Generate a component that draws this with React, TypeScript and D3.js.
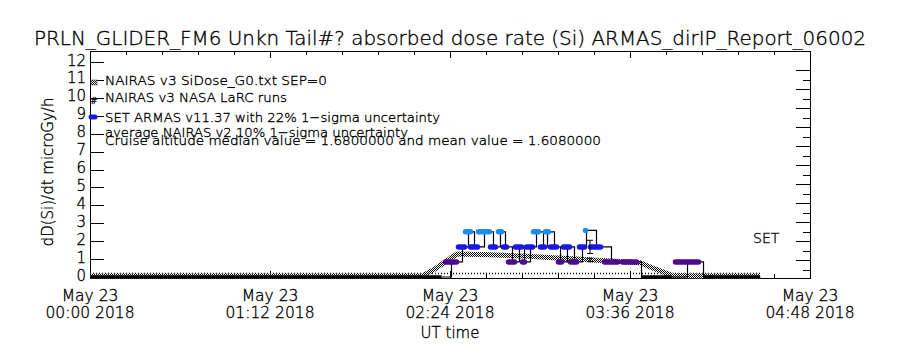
import React, { useEffect, useRef } from "react";
import * as d3 from "d3";

// times are minutes after 2018-05-23 00:00 UT
const xTickMinutes = [0, 72, 144, 216, 288];
const xMinorStep = 14.4;
const yTicks = [0, 1, 2, 3, 4, 5, 6, 7, 8, 9, 10, 11, 12];

// NAIRAS v3 SiDose_G0 model curve
const nairasTime = [0, 60, 120, 133, 138, 142, 146.8, 160, 175, 185, 195, 204, 212, 220, 226, 233, 250, 268];
const nairasDose = [0.04, 0.04, 0.04, 0.06, 0.45, 0.84, 1.28, 1.24, 1.16, 1.08, 1.0, 0.92, 0.86, 0.8, 0.45, 0.08, 0.04, 0.04];

// NAIRAS v3 NASA LaRC runs (near zero)
const larcTime = [0, 268];
const larcDose = [0.19, 0.19];

// SET ARMAS samples: start / end minute and dose rate
const armasStart = [141.2, 146.4, 149.2, 151.2, 154.4, 159.2, 162.4, 164.4, 166.4, 169.2, 172, 173.6, 176.4, 179.2, 181.2, 183.2, 186.4, 188.4, 191.2, 194.8, 197.2, 199.2, 204.8, 212, 233.2];
const armasEnd = [147.6, 150.8, 153.2, 156, 160.8, 163.2, 165.6, 167.6, 170.8, 173.6, 174.8, 178, 180.4, 182.8, 184.4, 187.6, 189.6, 192.8, 195.6, 198.8, 199.2, 205.2, 212, 219.6, 244.4];
const armasDose = [0.84, 1.68, 2.52, 1.68, 2.52, 1.68, 2.52, 1.68, 0.84, 1.68, 0.84, 1.68, 2.52, 1.68, 2.52, 1.68, 0.84, 1.68, 0.84, 1.68, 2.6, 1.68, 0.84, 0.84, 0.84];
const armasZeroStart = [0, 220.4, 245.2];
const armasZeroEnd = [140.6, 232.6, 268];

// error bars (minute, value, relative uncertainty)
const errTime = [200, 200];
const errValue = [1.68, 0.95];
const errRel = [0.22, 0.1];

const legendLabels = [
  "NAIRAS v3 SiDose_G0.txt SEP=0",
  "NAIRAS v3 NASA LaRC runs",
  "SET ARMAS v11.37 with 22% 1\u2212sigma uncertainty",
  "average NAIRAS v2 10% 1\u2212sigma uncertainty",
  "Cruise altitude median value = 1.6800000 and mean value = 1.6080000",
];

const titleText = "PRLN_GLIDER_FM6 Unkn Tail#? absorbed dose rate (Si) ARMAS_dirIP_Report_06002";

const startMs = Date.UTC(2018, 4, 23, 0, 0);
const toDate = (m: number) => new Date(startMs + m * 60000);

const FONT = "'DejaVu Sans ExtraLight', 'DejaVu Sans', 'Liberation Sans', sans-serif";
const WEIGHT = 200;

function doseColor(v: number) {
  if (v <= 1) return "#4e0a8c";
  if (v <= 2) return "#1a16e6";
  return "#1e8cf5";
}

export default function App() {
  const ref = useRef<SVGSVGElement>(null);

  useEffect(() => {
    const svg = d3.select(ref.current);
    svg.selectAll("*").remove();

    const left = 90, right = 810, top = 51, bottom = 278;

    const x = d3.scaleUtc().domain([toDate(0), toDate(288)]).range([left, right]);
    const y = d3.scaleLinear().domain([0, 12]).range([277, 62]);

    const defs = svg.append("defs");
    const pat = defs.append("pattern")
      .attr("id", "dither")
      .attr("width", 2).attr("height", 2)
      .attr("patternUnits", "userSpaceOnUse");
    pat.append("rect").attr("width", 2).attr("height", 2).attr("fill", "#ffffff");
    pat.append("rect").attr("width", 1).attr("height", 1).attr("fill", "#000");
    pat.append("rect").attr("x", 1).attr("y", 1).attr("width", 1).attr("height", 1).attr("fill", "#000");

    const txt = (sel: d3.Selection<any, any, any, any>, size: number) =>
      sel.attr("font-family", FONT).attr("font-weight", WEIGHT).attr("font-size", size)
        .attr("fill", "#000").attr("stroke", "#000").attr("stroke-width", 0.35);

    // title
    txt(svg.append("text"), 20)
      .attr("x", 450).attr("y", 45)
      .attr("text-anchor", "middle")
      .attr("textLength", 832).attr("lengthAdjust", "spacingAndGlyphs")
      .text(titleText);

    // frame
    svg.append("rect")
      .attr("x", left + 0.5).attr("y", top + 0.5)
      .attr("width", right - left).attr("height", bottom - top)
      .attr("fill", "none").attr("stroke", "#000").attr("stroke-width", 1);

    // left axis ticks + labels
    svg.append("g").selectAll("line").data(yTicks).join("line")
      .attr("x1", left).attr("x2", left + 14)
      .attr("y1", d => Math.round(y(d)) + 0.5).attr("y2", d => Math.round(y(d)) + 0.5)
      .attr("stroke", "#000");
    txt(svg.append("g"), 15).selectAll("text").data(yTicks).join("text")
      .attr("x", 86).attr("y", d => y(d) - 1)
      .attr("text-anchor", "end")
      .attr("dominant-baseline", "middle")
      .text(d => String(d));

    // right axis ticks
    const yr = d3.scaleLinear().domain([0, 20]).range([260, 70]);
    const rTicks = d3.range(-1, 21);
    svg.append("g").selectAll("line").data(rTicks).join("line")
      .attr("x1", right).attr("x2", d => right - (d % 2 === 0 ? 14 : 7))
      .attr("y1", d => Math.round(yr(d)) + 0.5).attr("y2", d => Math.round(yr(d)) + 0.5)
      .attr("stroke", "#000");

    // bottom / top ticks (major + minor)
    const minors = d3.range(0, 288 + 0.01, xMinorStep);
    const tickLen = (m: number) => (xTickMinutes.includes(Math.round(m * 10) / 10) ? 7 : 4);
    svg.append("g").selectAll("line").data(minors).join("line")
      .attr("x1", d => Math.round(x(toDate(d))) + 0.5).attr("x2", d => Math.round(x(toDate(d))) + 0.5)
      .attr("y1", bottom).attr("y2", d => bottom - tickLen(d))
      .attr("stroke", "#000");
    svg.append("g").selectAll("line").data(minors).join("line")
      .attr("x1", d => Math.round(x(toDate(d))) + 0.5).attr("x2", d => Math.round(x(toDate(d))) + 0.5)
      .attr("y1", top).attr("y2", d => top + tickLen(d))
      .attr("stroke", "#000");

    const fmtDay = d3.utcFormat("%b %d");
    const fmtTime = d3.utcFormat("%H:%M %Y");
    const xl = svg.append("g").selectAll("g").data(xTickMinutes).join("g")
      .attr("transform", d => `translate(${x(toDate(d))},0)`);
    txt(xl.append("text"), 15.5)
      .attr("y", 301).attr("text-anchor", "middle")
      .text(d => fmtDay(toDate(d)));
    txt(xl.append("text"), 15.5)
      .attr("y", 318).attr("text-anchor", "middle")
      .text(d => fmtTime(toDate(d)));

    // axis titles
    txt(svg.append("text"), 15)
      .attr("x", 450).attr("y", 338).attr("text-anchor", "middle")
      .text("UT time");
    txt(svg.append("text"), 15)
      .attr("transform", "translate(53,172) rotate(-90)")
      .attr("text-anchor", "middle")
      .text("dD(Si)/dt microGy/h");

    const plot = svg.append("g");

    // LaRC comb near zero
    plot.append("path")
      .datum(larcTime.map((t, i) => [t, larcDose[i]] as [number, number]))
      .attr("d", d3.line<[number, number]>().x(d => x(toDate(d[0]))).y(d => y(d[1])))
      .attr("fill", "none").attr("stroke", "#000").attr("stroke-width", 1.5)
      .attr("stroke-dasharray", "1,2");

    // NAIRAS model band
    plot.append("path")
      .datum(nairasTime.map((t, i) => [t, nairasDose[i]] as [number, number]))
      .attr("d", d3.line<[number, number]>().x(d => x(toDate(d[0]))).y(d => y(d[1])))
      .attr("fill", "none").attr("stroke", "url(#dither)").attr("stroke-width", 5);

    // ARMAS connecting line
    const segs = [
      ...armasStart.map((s, i) => ({ s, e: armasEnd[i], v: armasDose[i] })),
      ...armasZeroStart.map((s, i) => ({ s, e: armasZeroEnd[i], v: 0 })),
    ].sort((a, b) => a.s - b.s);
    const pts: [number, number][] = [];
    segs.forEach(g => {
      if (g.v === 0) { pts.push([g.s, 0]); pts.push([g.e, 0]); }
      else pts.push([(g.s + g.e) / 2, g.v]);
    });
    plot.append("path")
      .datum(pts)
      .attr("d", d3.line<[number, number]>()
        .x(d => Math.round(x(toDate(d[0]))) + 0.5)
        .y(d => y(d[1]))
        .curve(d3.curveStepAfter))
      .attr("fill", "none").attr("stroke", "#000").attr("stroke-width", 1.2);

    // zero-level ARMAS samples
    plot.selectAll(".zero").data(armasZeroStart).join("line")
      .attr("x1", (d) => x(toDate(d)))
      .attr("x2", (d, i) => x(toDate(armasZeroEnd[i])))
      .attr("y1", y(0)).attr("y2", y(0))
      .attr("stroke", "#000").attr("stroke-width", 3.5);

    // ARMAS pills
    plot.selectAll(".pill").data(armasStart).join("line")
      .attr("x1", d => x(toDate(d)) + 2.5)
      .attr("x2", (d, i) => Math.max(x(toDate(d)) + 2.5, x(toDate(armasEnd[i])) - 2.5))
      .attr("y1", (d, i) => y(armasDose[i])).attr("y2", (d, i) => y(armasDose[i]))
      .attr("stroke", (d, i) => doseColor(armasDose[i]))
      .attr("stroke-width", 5.5).attr("stroke-linecap", "round");

    // error bars
    errTime.forEach((t, i) => {
      const cx = x(toDate(t));
      const lo = y(errValue[i] * (1 - errRel[i]));
      const hi = y(errValue[i] * (1 + errRel[i]));
      const g = plot.append("g").attr("stroke", "#000").attr("stroke-width", 1);
      g.append("line").attr("x1", cx).attr("x2", cx).attr("y1", lo).attr("y2", hi);
      g.append("line").attr("x1", cx - 3).attr("x2", cx + 3).attr("y1", lo).attr("y2", lo);
      g.append("line").attr("x1", cx - 3).attr("x2", cx + 3).attr("y1", hi).attr("y2", hi);
    });

    txt(svg.append("text"), 14)
      .attr("x", 753).attr("y", 243)
      .text("SET");

    // legend
    const legY = [85, 102, 122, 137, 145];
    const legW = [222, 182, 335, 303, 496];
    legendLabels.forEach((lab, i) => {
      txt(svg.append("text"), 13)
        .attr("x", 105).attr("y", legY[i])
        .attr("textLength", legW[i]).attr("lengthAdjust", "spacingAndGlyphs")
        .text(lab);
    });
    svg.append("rect").attr("x", 91).attr("y", 80).attr("width", 6).attr("height", 5)
      .attr("fill", "url(#dither)").attr("stroke", "#555").attr("stroke-width", 0.6);
    txt(svg.append("text"), 9).attr("x", 90).attr("y", 104).text("#");
    svg.append("line").attr("x1", 91).attr("x2", 95).attr("y1", 117).attr("y2", 117)
      .attr("stroke", "#1a16e6").attr("stroke-width", 5).attr("stroke-linecap", "round");
  }, []);

  return (
    <svg
      ref={ref}
      width={900}
      height={350}
      style={{ position: "absolute", left: 0, top: 0, background: "#fff" }}
    />
  );
}
